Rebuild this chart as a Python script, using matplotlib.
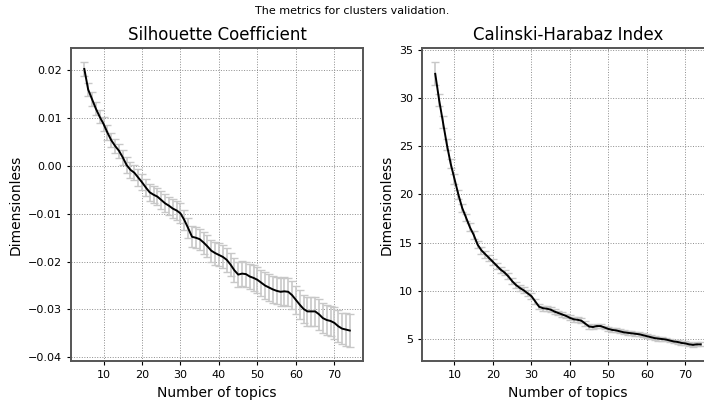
import matplotlib
matplotlib.use('Agg')
import matplotlib.pyplot as plt
import numpy as np


topics = list(range(5, 75))

silhouette = [0.0203, 0.0160, 0.0140, 0.0120, 0.0103, 0.0088, 0.0070, 0.0054, 0.0042, 0.0032,
              0.0018, 0.0002, -0.0008, -0.0014, -0.0024, -0.0034, -0.0045, -0.0055, -0.0060, -0.0064,
              -0.0071, -0.0078, -0.0083, -0.0089, -0.0093, -0.0099, -0.0113, -0.0130, -0.0148, -0.0150,
              -0.0153, -0.0160, -0.0168, -0.0177, -0.0182, -0.0186, -0.0190, -0.0196, -0.0206, -0.0218,
              -0.0227, -0.0225, -0.0226, -0.0231, -0.0234, -0.0238, -0.0244, -0.0250, -0.0254, -0.0258,
              -0.0261, -0.0263, -0.0262, -0.0263, -0.0270, -0.0280, -0.0290, -0.0299, -0.0304, -0.0304,
              -0.0304, -0.0310, -0.0318, -0.0322, -0.0324, -0.0328, -0.0335, -0.0340, -0.0342, -0.0344]

silhouette_err = [0.0014, 0.0014, 0.0014, 0.0014, 0.0014, 0.0015, 0.0015, 0.0015, 0.0015, 0.0015,
                  0.0016, 0.0016, 0.0016, 0.0016, 0.0017, 0.0017, 0.0017, 0.0018, 0.0018, 0.0018,
                  0.0019, 0.0019, 0.0019, 0.0020, 0.0020, 0.0021, 0.0021, 0.0021, 0.0022, 0.0022,
                  0.0022, 0.0023, 0.0023, 0.0023, 0.0024, 0.0024, 0.0024, 0.0025, 0.0025, 0.0025,
                  0.0026, 0.0026, 0.0026, 0.0026, 0.0027, 0.0027, 0.0027, 0.0028, 0.0028, 0.0028,
                  0.0028, 0.0029, 0.0029, 0.0029, 0.0030, 0.0030, 0.0030, 0.0030, 0.0031, 0.0031,
                  0.0031, 0.0032, 0.0032, 0.0032, 0.0032, 0.0033, 0.0033, 0.0033, 0.0034, 0.0034]

calinski = [32.5, 29.8, 27.5, 25.2, 23.2, 21.6, 20.0, 18.6, 17.6, 16.6,
            15.8, 14.8, 14.2, 13.8, 13.4, 13.0, 12.6, 12.2, 11.9, 11.5,
            11.0, 10.6, 10.3, 10.05, 9.75, 9.45, 8.9, 8.35, 8.2, 8.15,
            8.05, 7.85, 7.7, 7.55, 7.4, 7.2, 7.05, 7.0, 6.9, 6.6,
            6.3, 6.25, 6.35, 6.35, 6.2, 6.05, 5.95, 5.9, 5.8, 5.7,
            5.65, 5.6, 5.55, 5.5, 5.4, 5.3, 5.2, 5.1, 5.05, 5.0,
            4.95, 4.85, 4.75, 4.7, 4.6, 4.55, 4.45, 4.4, 4.45, 4.45]

calinski_err = [1.2, 0.6, 0.6, 0.55, 0.5, 0.5, 0.45, 0.45, 0.4, 0.4,
                0.4, 0.35, 0.35, 0.35, 0.3, 0.3, 0.3, 0.3, 0.3, 0.3,
                0.3, 0.3, 0.3, 0.3, 0.3, 0.3, 0.3, 0.25, 0.25, 0.25,
                0.25, 0.25, 0.25, 0.25, 0.25, 0.25, 0.25, 0.25, 0.25, 0.25,
                0.25, 0.25, 0.25, 0.25, 0.2, 0.2, 0.2, 0.2, 0.2, 0.2,
                0.2, 0.2, 0.2, 0.2, 0.2, 0.2, 0.2, 0.2, 0.2, 0.2,
                0.2, 0.2, 0.2, 0.2, 0.2, 0.2, 0.2, 0.2, 0.2, 0.2]

panels = [('Silhouette Coefficient', silhouette, silhouette_err),
          ('Calinski-Harabaz Index', calinski, calinski_err)]

fig = plt.figure(figsize=(7.04, 4.05), dpi=100)
fig.suptitle('The metrics for clusters validation.', fontsize=8, y=0.985)

lefts = [0.1009, 0.5994]
for left, (title, vals, errs) in zip(lefts, panels):
    ax = fig.add_axes([left, 0.1086, 0.4148, 0.7728])
    ax.errorbar(topics, vals, yerr=errs, fmt='none', ecolor='#c8c8c8',
                elinewidth=1.2, capsize=3, capthick=1.0, zorder=2)
    ax.plot(topics, vals, color='black', lw=1.4, zorder=3)
    ax.set_title(title, fontsize=12)
    ax.set_xlabel('Number of topics', fontsize=10)
    ax.set_ylabel('Dimensionless', fontsize=10)
    ax.tick_params(labelsize=8, length=3)
    ax.grid(True, linestyle=':', color='#8c8c8c', lw=0.7)
    for sp in ax.spines.values():
        sp.set_color('#555555')
        sp.set_linewidth(1.4)

plt.savefig('out.png', dpi=100)
